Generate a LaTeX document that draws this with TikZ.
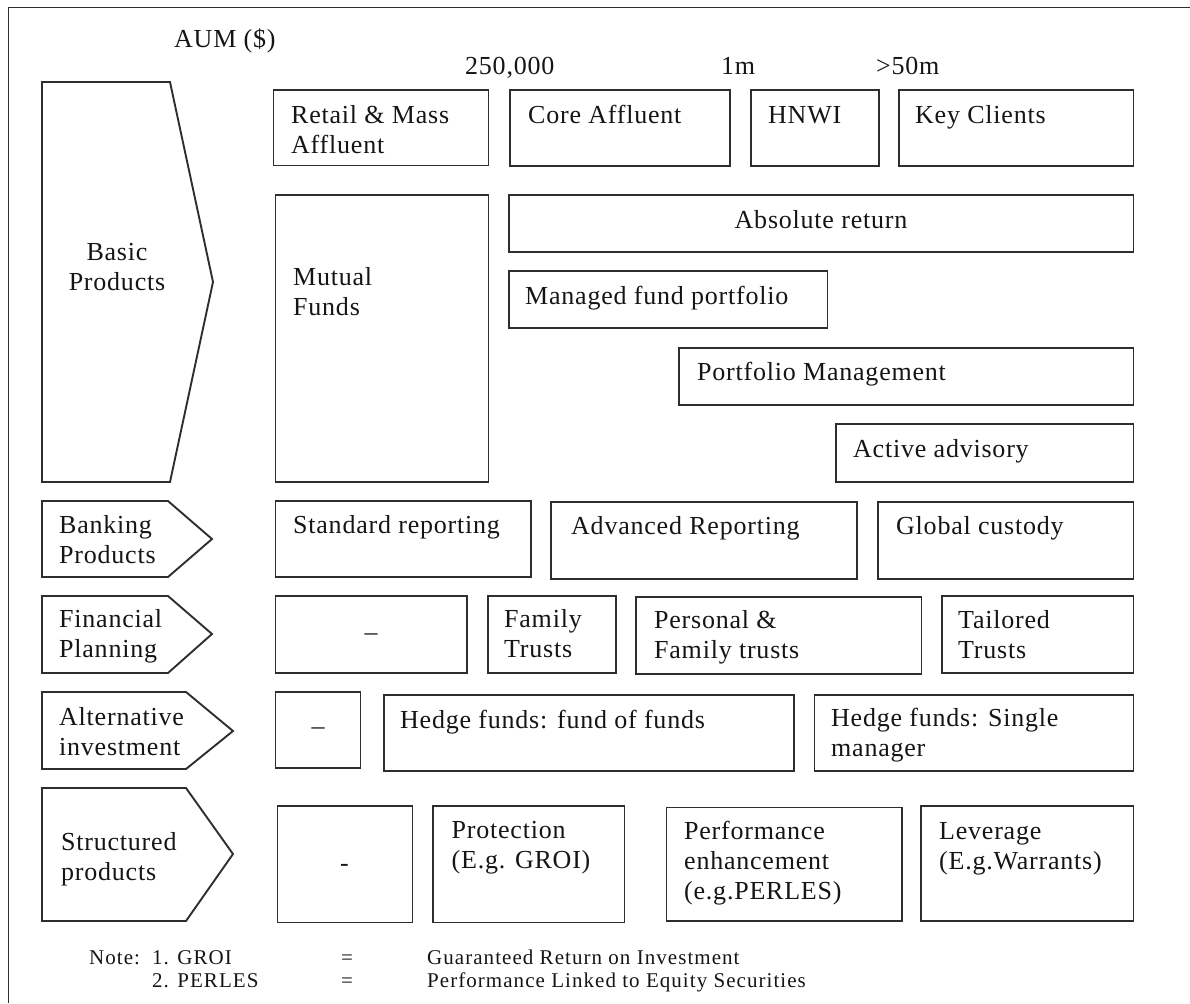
\documentclass[tikz,border=0pt]{standalone}
\usepackage{fontspec}
\setmainfont{Liberation Serif}
\newfontfamily\bxfont[LetterSpace=3]{Liberation Serif}
\newfontfamily\ntfont[LetterSpace=5]{Liberation Serif}
\usetikzlibrary{fit}
\definecolor{lc}{HTML}{2E2E2E}
\definecolor{tc}{HTML}{151515}
\tikzset{
 boxs/.style={draw=lc, line width=1.9pt, inner sep=0pt, rectangle},
 pent/.style={draw=lc, line width=1.9pt, line join=miter},
 txt/.style={inner sep=0pt, anchor=north west, align=left, text=tc, font=\bxfont\fontsize{26}{30}\selectfont},
 ctxt/.style={txt, anchor=north, align=center},
 btxt/.style={txt, anchor=base, align=center},
 note/.style={inner sep=0pt, anchor=base west, text=tc, font=\ntfont\fontsize{21}{24}\selectfont},
 frame/.style={draw=lc, line width=1.9pt}
}
\newcommand\Bx[5]{\node[boxs, fit={(#2,#3) (#4,#5)}] (#1) {};}
\newcommand\Tx[4]{\node[txt] (#1) at (#2,#3-21) {#4};}
\begin{document}
\begin{tikzpicture}[x=1pt,y=-1pt]
\useasboundingbox (0,0) rectangle (1190,1003);
% outer frame (top and left visible)
\coordinate (fbl) at (8.5,1003);
\coordinate (ftl) at (8.5,7.5);
\coordinate (ftr) at (1190,7.5);
\draw[frame] (fbl) -- (ftl) -- (ftr);

% header labels
\Tx{aum}{174}{47}{\strut AUM (\$)}
\Tx{t250}{465}{74}{\strut 250,000}
\Tx{t1m}{721}{74}{\strut 1m}
\Tx{t50m}{876}{74}{\strut >50m}

% segment row
\Bx{seg1}{273.5}{90}{488.5}{165.5}
\Bx{seg2}{510}{90}{730}{166}
\Bx{seg3}{751}{90}{879}{166}
\Bx{seg4}{899}{90}{1133.5}{166}
\Tx{seg1t}{291}{123}{\strut Retail \& Mass\\\strut Affluent}
\Tx{seg2t}{528}{123}{\strut Core Affluent}
\Tx{seg3t}{768}{123}{\strut HNWI}
\Tx{seg4t}{915}{123}{\strut Key Clients}

% pentagons
\draw[pent] (42,82) -- (170,82) -- (213,282) -- (170,482) -- (42,482) -- cycle;
\draw[pent] (42,501) -- (168,501) -- (212,539) -- (168,577) -- (42,577) -- cycle;
\draw[pent] (42,596) -- (168,596) -- (212,634) -- (168,673) -- (42,673) -- cycle;
\draw[pent] (42,692) -- (186,692) -- (233,731) -- (186,769) -- (42,769) -- cycle;
\draw[pent] (42,788) -- (186,788) -- (233,854) -- (186,921) -- (42,921) -- cycle;
\node[ctxt] (basict) at (117,260-21) {\strut Basic\\\strut Products};
\Tx{bankt}{59}{533}{\strut Banking\\\strut Products}
\Tx{fint}{59}{627}{\strut Financial\\\strut Planning}
\Tx{altt}{59}{725}{\strut Alternative\\\strut investment}
\Tx{strt}{61}{850}{\strut Structured\\\strut products}

% basic products
\Bx{mf}{275.5}{195}{488.5}{482}
\Bx{abs}{509}{195}{1133.5}{252}
\Bx{mfp}{509}{271}{827.5}{328}
\Bx{pm}{679}{348}{1133.5}{405}
\Bx{aa}{836}{424}{1133.5}{482}
\Tx{mft}{293}{285}{\strut Mutual\\\strut Funds}
\node[btxt] (abst) at (821,228) {Absolute return};
\Tx{mfpt}{525}{304}{\strut Managed fund portfolio}
\Tx{pmt}{697}{380}{\strut Portfolio Management}
\Tx{aat}{853}{457}{\strut Active advisory}

% banking products
\Bx{sr}{275.5}{501}{531}{577}
\Bx{ar}{551}{502}{857}{579}
\Bx{gc}{878}{502}{1133.5}{579}
\Tx{srt}{293}{533}{\strut Standard reporting}
\Tx{art}{571}{534}{\strut Advanced Reporting}
\Tx{gct}{896}{534}{\strut Global custody}

% financial planning
\Bx{fp0}{275.5}{596}{467}{673}
\Bx{ft}{488}{596}{616}{673}
\Bx{pft}{636}{597}{921.5}{674}
\Bx{tt}{942}{596}{1133.5}{673}
\node[btxt] (fp0t) at (371,640) {\textendash};
\Tx{ftt}{504}{627}{\strut Family\\\strut Trusts}
\Tx{pftt}{654}{628}{\strut Personal \&\\\strut Family trusts}
\Tx{ttt}{958}{628}{\strut Tailored\\\strut Trusts}

% alternative investment
\Bx{ai0}{275.5}{692}{360.5}{768}
\Bx{hff}{384}{695}{794}{771}
\Bx{hfs}{814.5}{695}{1133.5}{771}
\node[btxt] (ai0t) at (318,734) {\textendash};
\Tx{hfft}{400}{728}{\strut Hedge funds: fund of funds}
\Tx{hfst}{831}{726}{\strut Hedge funds: Single\\\strut manager}

% structured products
\Bx{sp0}{277.5}{806}{412.5}{922.5}
\Bx{prot}{433}{806}{624.5}{922.5}
\Bx{perf}{666.5}{807.5}{902}{921}
\Bx{lev}{921}{806}{1133.5}{921}
\node[btxt] (sp0t) at (344.5,871) {-};
\Tx{prott}{451.5}{838}{\strut Protection\\\strut (E.g. GROI)}
\Tx{perft}{684}{839}{\strut Performance\\\strut enhancement\\\strut (e.g.PERLES)}
\Tx{levt}{939}{839}{\strut Leverage\\\strut (E.g.Warrants)}

% notes
\node[note] (n1) at (89,964) {Note:};
\node[note] (n2) at (152,964) {1. GROI};
\node[note] (n3) at (152,987) {2. PERLES};
\node[note, anchor=base] (e1) at (347,964) {=};
\node[note, anchor=base] (e2) at (347,987) {=};
\node[note] (g1) at (427,964) {Guaranteed Return on Investment};
\node[note] (g2) at (427,987) {Performance Linked to Equity Securities};
\end{tikzpicture}
\end{document}
